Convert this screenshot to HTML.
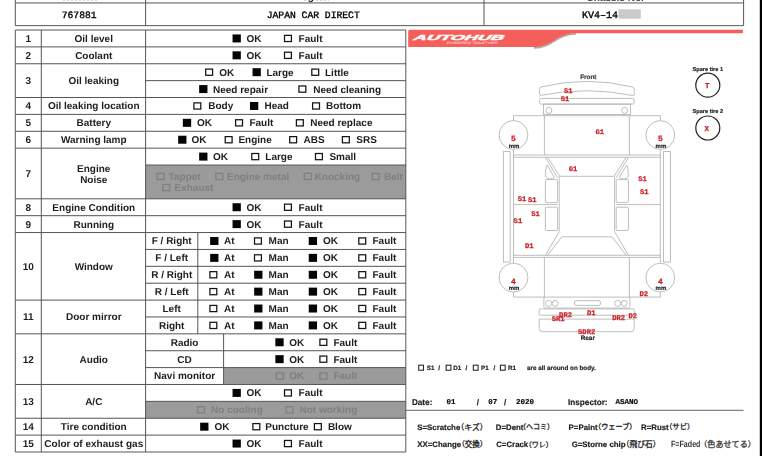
<!DOCTYPE html>
<html><head><meta charset="utf-8"><title>Inspection sheet</title>
<style>html,body{margin:0;padding:0;background:#fff}
body{width:762px;height:456px;position:relative;overflow:hidden;font-family:"Liberation Sans", sans-serif}
.t{position:absolute;white-space:nowrap;margin:0;padding:0;font-weight:bold;text-rendering:geometricPrecision}
.m{font-family:"Liberation Mono", monospace}
.n{font-weight:normal}
svg{position:absolute;left:0;top:0}
#txt{position:absolute;left:0;top:0;width:762px;height:456px;will-change:transform}</style></head>
<body>
<svg width="762" height="456" viewBox="0 0 762 456">
<rect x="145.60" y="165.04" width="260.20" height="33.76" fill="#9b9b9b" stroke="none" stroke-width="1" rx="0"/>
<rect x="223.60" y="367.60" width="182.20" height="16.88" fill="#9b9b9b" stroke="none" stroke-width="1" rx="0"/>
<rect x="145.60" y="401.36" width="260.20" height="16.88" fill="#9b9b9b" stroke="none" stroke-width="1" rx="0"/>
<line x1="15.30" y1="2.95" x2="743.60" y2="2.95" stroke="#555" stroke-width="1"/>
<line x1="15.30" y1="25.65" x2="743.60" y2="25.65" stroke="#555" stroke-width="1"/>
<line x1="15.30" y1="0.00" x2="15.30" y2="25.65" stroke="#555" stroke-width="1"/>
<line x1="145.60" y1="0.00" x2="145.60" y2="25.65" stroke="#555" stroke-width="1"/>
<line x1="484.00" y1="0.00" x2="484.00" y2="25.65" stroke="#555" stroke-width="1"/>
<line x1="743.60" y1="0.00" x2="743.60" y2="25.65" stroke="#555" stroke-width="1"/>
<line x1="15.30" y1="30.00" x2="405.80" y2="30.00" stroke="#555" stroke-width="1"/>
<line x1="15.30" y1="46.88" x2="405.80" y2="46.88" stroke="#555" stroke-width="1"/>
<line x1="15.30" y1="63.76" x2="405.80" y2="63.76" stroke="#555" stroke-width="1"/>
<line x1="15.30" y1="97.52" x2="405.80" y2="97.52" stroke="#555" stroke-width="1"/>
<line x1="15.30" y1="114.40" x2="405.80" y2="114.40" stroke="#555" stroke-width="1"/>
<line x1="15.30" y1="131.28" x2="405.80" y2="131.28" stroke="#555" stroke-width="1"/>
<line x1="15.30" y1="148.16" x2="405.80" y2="148.16" stroke="#555" stroke-width="1"/>
<line x1="15.30" y1="198.80" x2="405.80" y2="198.80" stroke="#555" stroke-width="1"/>
<line x1="15.30" y1="215.68" x2="405.80" y2="215.68" stroke="#555" stroke-width="1"/>
<line x1="15.30" y1="232.56" x2="405.80" y2="232.56" stroke="#555" stroke-width="1"/>
<line x1="15.30" y1="300.08" x2="405.80" y2="300.08" stroke="#555" stroke-width="1"/>
<line x1="15.30" y1="333.84" x2="405.80" y2="333.84" stroke="#555" stroke-width="1"/>
<line x1="15.30" y1="384.48" x2="405.80" y2="384.48" stroke="#555" stroke-width="1"/>
<line x1="15.30" y1="418.24" x2="405.80" y2="418.24" stroke="#555" stroke-width="1"/>
<line x1="15.30" y1="435.12" x2="405.80" y2="435.12" stroke="#555" stroke-width="1"/>
<line x1="15.30" y1="452.00" x2="405.80" y2="452.00" stroke="#555" stroke-width="1"/>
<line x1="145.60" y1="80.64" x2="405.80" y2="80.64" stroke="#555" stroke-width="1"/>
<line x1="145.60" y1="165.04" x2="405.80" y2="165.04" stroke="#555" stroke-width="1"/>
<line x1="145.60" y1="249.44" x2="405.80" y2="249.44" stroke="#555" stroke-width="1"/>
<line x1="145.60" y1="266.32" x2="405.80" y2="266.32" stroke="#555" stroke-width="1"/>
<line x1="145.60" y1="283.20" x2="405.80" y2="283.20" stroke="#555" stroke-width="1"/>
<line x1="145.60" y1="316.96" x2="405.80" y2="316.96" stroke="#555" stroke-width="1"/>
<line x1="145.60" y1="350.72" x2="405.80" y2="350.72" stroke="#555" stroke-width="1"/>
<line x1="145.60" y1="367.60" x2="405.80" y2="367.60" stroke="#555" stroke-width="1"/>
<line x1="145.60" y1="401.36" x2="405.80" y2="401.36" stroke="#555" stroke-width="1"/>
<line x1="15.30" y1="30.00" x2="15.30" y2="452.00" stroke="#555" stroke-width="1"/>
<line x1="41.30" y1="30.00" x2="41.30" y2="452.00" stroke="#555" stroke-width="1"/>
<line x1="145.60" y1="30.00" x2="145.60" y2="452.00" stroke="#555" stroke-width="1"/>
<line x1="405.80" y1="30.00" x2="405.80" y2="452.00" stroke="#555" stroke-width="1"/>
<line x1="197.80" y1="232.56" x2="197.80" y2="333.84" stroke="#555" stroke-width="1"/>
<line x1="223.60" y1="333.84" x2="223.60" y2="384.48" stroke="#555" stroke-width="1"/>
<rect x="232.55" y="34.44" width="8.30" height="8.00" fill="#050505" stroke="none" stroke-width="1" rx="0"/>
<rect x="284.50" y="35.34" width="6.90" height="6.20" fill="none" stroke="#141414" stroke-width="1.25" rx="0"/>
<rect x="232.55" y="51.32" width="8.30" height="8.00" fill="#050505" stroke="none" stroke-width="1" rx="0"/>
<rect x="284.50" y="52.22" width="6.90" height="6.20" fill="none" stroke="#141414" stroke-width="1.25" rx="0"/>
<rect x="232.55" y="203.24" width="8.30" height="8.00" fill="#050505" stroke="none" stroke-width="1" rx="0"/>
<rect x="284.50" y="204.14" width="6.90" height="6.20" fill="none" stroke="#141414" stroke-width="1.25" rx="0"/>
<rect x="232.55" y="220.12" width="8.30" height="8.00" fill="#050505" stroke="none" stroke-width="1" rx="0"/>
<rect x="284.50" y="221.02" width="6.90" height="6.20" fill="none" stroke="#141414" stroke-width="1.25" rx="0"/>
<rect x="232.55" y="388.92" width="8.30" height="8.00" fill="#050505" stroke="none" stroke-width="1" rx="0"/>
<rect x="284.50" y="389.82" width="6.90" height="6.20" fill="none" stroke="#141414" stroke-width="1.25" rx="0"/>
<rect x="232.55" y="439.56" width="8.30" height="8.00" fill="#050505" stroke="none" stroke-width="1" rx="0"/>
<rect x="284.50" y="440.46" width="6.90" height="6.20" fill="none" stroke="#141414" stroke-width="1.25" rx="0"/>
<rect x="205.70" y="69.10" width="6.90" height="6.20" fill="none" stroke="#141414" stroke-width="1.25" rx="0"/>
<rect x="252.55" y="68.20" width="8.30" height="8.00" fill="#050505" stroke="none" stroke-width="1" rx="0"/>
<rect x="311.80" y="69.10" width="6.90" height="6.20" fill="none" stroke="#141414" stroke-width="1.25" rx="0"/>
<rect x="199.15" y="85.08" width="8.30" height="8.00" fill="#050505" stroke="none" stroke-width="1" rx="0"/>
<rect x="298.90" y="85.98" width="6.90" height="6.20" fill="none" stroke="#141414" stroke-width="1.25" rx="0"/>
<rect x="193.90" y="102.86" width="6.90" height="6.20" fill="none" stroke="#141414" stroke-width="1.25" rx="0"/>
<rect x="249.95" y="101.96" width="8.30" height="8.00" fill="#050505" stroke="none" stroke-width="1" rx="0"/>
<rect x="312.60" y="102.86" width="6.90" height="6.20" fill="none" stroke="#141414" stroke-width="1.25" rx="0"/>
<rect x="182.85" y="118.84" width="8.30" height="8.00" fill="#050505" stroke="none" stroke-width="1" rx="0"/>
<rect x="235.60" y="119.74" width="6.90" height="6.20" fill="none" stroke="#141414" stroke-width="1.25" rx="0"/>
<rect x="296.40" y="119.74" width="6.90" height="6.20" fill="none" stroke="#141414" stroke-width="1.25" rx="0"/>
<rect x="178.15" y="135.72" width="8.30" height="8.00" fill="#050505" stroke="none" stroke-width="1" rx="0"/>
<rect x="225.20" y="136.62" width="6.90" height="6.20" fill="none" stroke="#141414" stroke-width="1.25" rx="0"/>
<rect x="289.70" y="136.62" width="6.90" height="6.20" fill="none" stroke="#141414" stroke-width="1.25" rx="0"/>
<rect x="342.40" y="136.62" width="6.90" height="6.20" fill="none" stroke="#141414" stroke-width="1.25" rx="0"/>
<rect x="199.15" y="152.60" width="8.30" height="8.00" fill="#050505" stroke="none" stroke-width="1" rx="0"/>
<rect x="251.80" y="153.50" width="6.90" height="6.20" fill="none" stroke="#141414" stroke-width="1.25" rx="0"/>
<rect x="315.50" y="153.50" width="6.90" height="6.20" fill="none" stroke="#141414" stroke-width="1.25" rx="0"/>
<rect x="157.10" y="173.30" width="6.90" height="6.20" fill="none" stroke="#7f7f7f" stroke-width="1.25" rx="0"/>
<rect x="215.80" y="173.30" width="6.90" height="6.20" fill="none" stroke="#7f7f7f" stroke-width="1.25" rx="0"/>
<rect x="304.30" y="173.30" width="6.90" height="6.20" fill="none" stroke="#7f7f7f" stroke-width="1.25" rx="0"/>
<rect x="372.30" y="173.30" width="6.90" height="6.20" fill="none" stroke="#7f7f7f" stroke-width="1.25" rx="0"/>
<rect x="162.80" y="184.50" width="6.90" height="6.20" fill="none" stroke="#7f7f7f" stroke-width="1.25" rx="0"/>
<rect x="210.15" y="237.00" width="8.30" height="8.00" fill="#050505" stroke="none" stroke-width="1" rx="0"/>
<rect x="254.50" y="237.90" width="6.90" height="6.20" fill="none" stroke="#141414" stroke-width="1.25" rx="0"/>
<rect x="308.75" y="237.00" width="8.30" height="8.00" fill="#050505" stroke="none" stroke-width="1" rx="0"/>
<rect x="358.80" y="237.90" width="6.90" height="6.20" fill="none" stroke="#141414" stroke-width="1.25" rx="0"/>
<rect x="210.15" y="253.88" width="8.30" height="8.00" fill="#050505" stroke="none" stroke-width="1" rx="0"/>
<rect x="254.50" y="254.78" width="6.90" height="6.20" fill="none" stroke="#141414" stroke-width="1.25" rx="0"/>
<rect x="308.75" y="253.88" width="8.30" height="8.00" fill="#050505" stroke="none" stroke-width="1" rx="0"/>
<rect x="358.80" y="254.78" width="6.90" height="6.20" fill="none" stroke="#141414" stroke-width="1.25" rx="0"/>
<rect x="209.90" y="271.66" width="6.90" height="6.20" fill="none" stroke="#141414" stroke-width="1.25" rx="0"/>
<rect x="254.15" y="270.76" width="8.30" height="8.00" fill="#050505" stroke="none" stroke-width="1" rx="0"/>
<rect x="308.75" y="270.76" width="8.30" height="8.00" fill="#050505" stroke="none" stroke-width="1" rx="0"/>
<rect x="358.80" y="271.66" width="6.90" height="6.20" fill="none" stroke="#141414" stroke-width="1.25" rx="0"/>
<rect x="209.90" y="288.54" width="6.90" height="6.20" fill="none" stroke="#141414" stroke-width="1.25" rx="0"/>
<rect x="254.15" y="287.64" width="8.30" height="8.00" fill="#050505" stroke="none" stroke-width="1" rx="0"/>
<rect x="308.75" y="287.64" width="8.30" height="8.00" fill="#050505" stroke="none" stroke-width="1" rx="0"/>
<rect x="358.80" y="288.54" width="6.90" height="6.20" fill="none" stroke="#141414" stroke-width="1.25" rx="0"/>
<rect x="209.90" y="305.42" width="6.90" height="6.20" fill="none" stroke="#141414" stroke-width="1.25" rx="0"/>
<rect x="254.15" y="304.52" width="8.30" height="8.00" fill="#050505" stroke="none" stroke-width="1" rx="0"/>
<rect x="308.75" y="304.52" width="8.30" height="8.00" fill="#050505" stroke="none" stroke-width="1" rx="0"/>
<rect x="358.80" y="305.42" width="6.90" height="6.20" fill="none" stroke="#141414" stroke-width="1.25" rx="0"/>
<rect x="209.90" y="322.30" width="6.90" height="6.20" fill="none" stroke="#141414" stroke-width="1.25" rx="0"/>
<rect x="254.15" y="321.40" width="8.30" height="8.00" fill="#050505" stroke="none" stroke-width="1" rx="0"/>
<rect x="308.75" y="321.40" width="8.30" height="8.00" fill="#050505" stroke="none" stroke-width="1" rx="0"/>
<rect x="358.80" y="322.30" width="6.90" height="6.20" fill="none" stroke="#141414" stroke-width="1.25" rx="0"/>
<rect x="275.35" y="338.28" width="8.30" height="8.00" fill="#050505" stroke="none" stroke-width="1" rx="0"/>
<rect x="319.90" y="339.18" width="6.90" height="6.20" fill="none" stroke="#141414" stroke-width="1.25" rx="0"/>
<rect x="275.35" y="355.16" width="8.30" height="8.00" fill="#050505" stroke="none" stroke-width="1" rx="0"/>
<rect x="319.90" y="356.06" width="6.90" height="6.20" fill="none" stroke="#141414" stroke-width="1.25" rx="0"/>
<rect x="276.50" y="372.94" width="6.90" height="6.20" fill="none" stroke="#7f7f7f" stroke-width="1.25" rx="0"/>
<rect x="319.90" y="372.94" width="6.90" height="6.20" fill="none" stroke="#7f7f7f" stroke-width="1.25" rx="0"/>
<rect x="197.60" y="406.70" width="6.90" height="6.20" fill="none" stroke="#7f7f7f" stroke-width="1.25" rx="0"/>
<rect x="286.00" y="406.70" width="6.90" height="6.20" fill="none" stroke="#7f7f7f" stroke-width="1.25" rx="0"/>
<rect x="200.15" y="422.68" width="8.30" height="8.00" fill="#050505" stroke="none" stroke-width="1" rx="0"/>
<rect x="252.90" y="423.58" width="6.90" height="6.20" fill="none" stroke="#141414" stroke-width="1.25" rx="0"/>
<rect x="314.40" y="423.58" width="6.90" height="6.20" fill="none" stroke="#141414" stroke-width="1.25" rx="0"/>
<rect x="618.40" y="9.20" width="22.40" height="9.60" fill="#cacaca" stroke="none" stroke-width="1" rx="0.8"/>
<line x1="63" y1="0.2" x2="97" y2="0.2" stroke="#c2c2c2" stroke-width="1" stroke-dasharray="2.2 1.8"/>
<line x1="304" y1="0.2" x2="329" y2="0.2" stroke="#c2c2c2" stroke-width="1" stroke-dasharray="2.2 1.8"/>
<rect x="759.80" y="0.00" width="2.20" height="456.00" fill="#000" stroke="none" stroke-width="1" rx="0"/>
<path d="M534 47.9 C553 47.9 556 34.0 576 34.0" fill="none" stroke="#8f8f8f" stroke-width="1.7" opacity="0.75"/>
<path d="M408.2 47.1 L408.2 31.4 Q408.2 29.8 409.8 29.8 L742.9 29.8 L742.9 33.3 L577 33.3 C556 33.3 553 47.1 534 47.1 Z" fill="#f45f59"/>
<text transform="translate(412.3 40.3) scale(2.52 1) skewX(-18)" font-family="Liberation Sans, sans-serif" font-weight="bold" font-size="7.2" fill="#fff" stroke="#fff" stroke-width="0.42">AUTOHUB</text>
<text transform="translate(446.6 44.3) scale(1.45 1) skewX(-15)" font-family="Liberation Sans, sans-serif" font-size="3.2" fill="#fff" opacity="0.9">POWERED TOGETHER</text>
<path d="M539.6 94.0 L539.6 88.8 Q539.6 87.3 541.1 87.0 A191.7 191.7 0 0 1 632.6999999999999 87.0 Q634.1999999999999 87.3 634.1999999999999 88.8 L634.1999999999999 94.2 Q634.1999999999999 95.9 632.6999999999999 95.5 A229.8 229.8 0 0 0 541.1 95.3 Q539.6 95.7 539.6 94.0 Z" fill="none" stroke="#adadad" stroke-width="0.8"/>
<rect x="539.6" y="98.4" width="94.6" height="5.7" rx="1.6" fill="none" stroke="#adadad" stroke-width="0.8"/>
<rect x="543.4" y="104.1" width="87.0" height="10.5" rx="0" fill="none" stroke="#adadad" stroke-width="0.8"/>
<circle cx="548.9" cy="110.4" r="3.0" fill="none" stroke="#adadad" stroke-width="0.8"/>
<circle cx="624.7" cy="110.4" r="3.0" fill="none" stroke="#adadad" stroke-width="0.8"/>
<path d="M513.5 121.0 L513.5 115.7 L660.3 115.7 L660.3 121.0" fill="none" stroke="#adadad" stroke-width="0.8"/>
<path d="M544.4 115.7 L544.4 155.0" fill="none" stroke="#adadad" stroke-width="0.8"/>
<path d="M629.4 115.7 L629.4 155.0" fill="none" stroke="#adadad" stroke-width="0.8"/>
<path d="M513.5 149.0 L513.5 263.5" fill="none" stroke="#adadad" stroke-width="0.8"/>
<path d="M660.3 149.0 L660.3 263.5" fill="none" stroke="#adadad" stroke-width="0.8"/>
<path d="M513.5 291.5 L513.5 297.1 L660.3 297.1 L660.3 291.5" fill="none" stroke="#adadad" stroke-width="0.8"/>
<circle cx="513.5" cy="135.0" r="14.4" fill="#fff" stroke="#adadad" stroke-width="0.8"/>
<circle cx="513.5" cy="277.6" r="14.4" fill="#fff" stroke="#adadad" stroke-width="0.8"/>
<circle cx="660.3" cy="135.0" r="14.4" fill="#fff" stroke="#adadad" stroke-width="0.8"/>
<circle cx="660.3" cy="277.6" r="14.4" fill="#fff" stroke="#adadad" stroke-width="0.8"/>
<path d="M513.5 155.0 L660.3 155.0" fill="none" stroke="#adadad" stroke-width="0.8"/>
<path d="M513.5 157.3 L660.3 157.3" fill="none" stroke="#adadad" stroke-width="0.8"/>
<path d="M513.5 255.3 L660.3 255.3" fill="none" stroke="#adadad" stroke-width="0.8"/>
<path d="M513.5 257.4 L660.3 257.4" fill="none" stroke="#adadad" stroke-width="0.8"/>
<rect x="503.3" y="151.6" width="6.9" height="110.4" rx="0" fill="none" stroke="#adadad" stroke-width="0.8"/>
<rect x="663.6" y="151.6" width="6.9" height="110.4" rx="0" fill="none" stroke="#adadad" stroke-width="0.8"/>
<path d="M545.4 157.3 L557.6 177.8" fill="none" stroke="#adadad" stroke-width="0.8"/>
<path d="M628.4 157.3 L616.2 177.8" fill="none" stroke="#adadad" stroke-width="0.8"/>
<path d="M547.6 157.3 L559.8 176.3 L614.0 176.3 L626.2 157.3" fill="none" stroke="#adadad" stroke-width="0.8"/>
<path d="M559.2 176.3 L559.2 231.6 L545.4 255.3" fill="none" stroke="#adadad" stroke-width="0.8"/>
<path d="M614.6 176.3 L614.6 231.6 L628.4 255.3" fill="none" stroke="#adadad" stroke-width="0.8"/>
<path d="M547.6 255.3 L561.8 236.8 L612.0 236.8 L626.2 255.3" fill="none" stroke="#adadad" stroke-width="0.8"/>
<path d="M513.5 204.6 L557.6 204.6" fill="none" stroke="#adadad" stroke-width="0.8"/>
<path d="M660.3 204.6 L616.2 204.6" fill="none" stroke="#adadad" stroke-width="0.8"/>
<rect x="545.4" y="179.6" width="12.2" height="23.0" rx="0.8" fill="none" stroke="#adadad" stroke-width="0.8"/>
<rect x="616.2" y="179.6" width="12.2" height="23.0" rx="0.8" fill="none" stroke="#adadad" stroke-width="0.8"/>
<rect x="545.4" y="207.2" width="12.2" height="23.3" rx="0.8" fill="none" stroke="#adadad" stroke-width="0.8"/>
<rect x="616.2" y="207.2" width="12.2" height="23.3" rx="0.8" fill="none" stroke="#adadad" stroke-width="0.8"/>
<path d="M546.6 165.2 Q545.2 171 545.6 176.2 Q546.4 179.2 550.0 179.0 Q553.6 178.8 554.4 177.4 L547.4 165.4 Z" fill="none" stroke="#adadad" stroke-width="0.8"/>
<path d="M627.2 165.2 Q628.6 171 628.2 176.2 Q627.4 179.2 623.8 179.0 Q620.2 178.8 619.4 177.4 L626.4 165.4 Z" fill="none" stroke="#adadad" stroke-width="0.8"/>
<path d="M544.4 257.4 L544.4 297.1" fill="none" stroke="#adadad" stroke-width="0.8"/>
<path d="M629.4 257.4 L629.4 297.1" fill="none" stroke="#adadad" stroke-width="0.8"/>
<path d="M543.9 297.1 L543.9 306.6 Q543.9 308.1 545.4 308.1 L628.4 308.1 Q629.9 308.1 629.9 306.6 L629.9 297.1" fill="none" stroke="#adadad" stroke-width="0.8"/>
<circle cx="548.6" cy="303.4" r="3.0" fill="none" stroke="#adadad" stroke-width="0.8"/>
<circle cx="555.2" cy="303.4" r="3.0" fill="none" stroke="#adadad" stroke-width="0.8"/>
<circle cx="617.7" cy="303.4" r="3.0" fill="none" stroke="#adadad" stroke-width="0.8"/>
<circle cx="624.2" cy="303.4" r="3.0" fill="none" stroke="#adadad" stroke-width="0.8"/>
<rect x="574.6" y="300.7" width="25.8" height="4.7" rx="1.3" fill="none" stroke="#adadad" stroke-width="0.8"/>
<rect x="539.2" y="308.9" width="95.0" height="6.3" rx="1.0" fill="none" stroke="#adadad" stroke-width="0.8"/>
<path d="M539.2 319.1 L634.1999999999999 319.1 L634.1999999999999 328.4 Q634.1999999999999 331.7 630.9 331.7 L542.5 331.7 Q539.2 331.7 539.2 328.4 Z" fill="none" stroke="#adadad" stroke-width="0.8"/>
<circle cx="707.8" cy="85.2" r="12" fill="none" stroke="#222" stroke-width="1.2"/>
<circle cx="707.8" cy="128.0" r="12" fill="none" stroke="#222" stroke-width="1.2"/>
<rect x="418.70" y="365.20" width="4.80" height="5.00" fill="none" stroke="#222" stroke-width="1.05" rx="0"/>
<rect x="446.10" y="365.20" width="4.80" height="5.00" fill="none" stroke="#222" stroke-width="1.05" rx="0"/>
<rect x="473.30" y="365.20" width="4.80" height="5.00" fill="none" stroke="#222" stroke-width="1.05" rx="0"/>
<rect x="500.40" y="365.20" width="4.80" height="5.00" fill="none" stroke="#222" stroke-width="1.05" rx="0"/>
<line x1="405.80" y1="410.30" x2="743.50" y2="410.30" stroke="#666" stroke-width="1"/>
<text x="456.38" y="429.59" font-family="'Liberation Sans', 'Noto Sans CJK JP', sans-serif" font-size="7.75" fill="#1e1e1e" stroke="#1e1e1e" stroke-width="0.3">（キズ）</text>
<text x="519.04" y="429.32" font-family="'Liberation Sans', 'Noto Sans CJK JP', sans-serif" font-size="7" fill="#1e1e1e" stroke="#1e1e1e" stroke-width="0.3">（ヘコミ）</text>
<text x="594.01" y="429.38" font-family="'Liberation Sans', 'Noto Sans CJK JP', sans-serif" font-size="7.16" fill="#1e1e1e" stroke="#1e1e1e" stroke-width="0.3">（ウェーブ）</text>
<text x="665.02" y="429.44" font-family="'Liberation Sans', 'Noto Sans CJK JP', sans-serif" font-size="7.34" fill="#1e1e1e" stroke="#1e1e1e" stroke-width="0.3">（サビ）</text>
<text x="457.38" y="446.69" font-family="'Liberation Sans', 'Noto Sans CJK JP', sans-serif" font-size="7.46" fill="#1e1e1e" stroke="#1e1e1e" stroke-width="0.3">（交換）</text>
<text x="524.73" y="446.54" font-family="'Liberation Sans', 'Noto Sans CJK JP', sans-serif" font-size="7.05" fill="#1e1e1e" stroke="#1e1e1e" stroke-width="0.3">（ワレ）</text>
<text x="621.64" y="446.79" font-family="'Liberation Sans', 'Noto Sans CJK JP', sans-serif" font-size="7.75" fill="#1e1e1e" stroke="#1e1e1e" stroke-width="0.3">（飛び石）</text>
<text x="699.28" y="446.81" font-family="'Liberation Sans', 'Noto Sans CJK JP', sans-serif" font-size="8.09" fill="#3a3a3a" stroke="#3a3a3a" stroke-width="0.3">（色あせてる）</text>
</svg>
<div id="txt">
<div class="t" style="left:-121.70px;width:300px;text-align:center;top:33px;font-size:10px;line-height:14px;color:#1e1e1e;">1</div>
<div class="t" style="left:-56.25px;width:300px;text-align:center;top:33px;font-size:10px;line-height:14px;color:#1e1e1e;">Oil level</div>
<div class="t" style="left:-121.70px;width:300px;text-align:center;top:50px;font-size:10px;line-height:14px;color:#1e1e1e;">2</div>
<div class="t" style="left:-56.25px;width:300px;text-align:center;top:50px;font-size:10px;line-height:14px;color:#1e1e1e;">Coolant</div>
<div class="t" style="left:-121.70px;width:300px;text-align:center;top:75px;font-size:10px;line-height:14px;color:#1e1e1e;">3</div>
<div class="t" style="left:-56.25px;width:300px;text-align:center;top:75px;font-size:10px;line-height:14px;color:#1e1e1e;">Oil leaking</div>
<div class="t" style="left:-121.70px;width:300px;text-align:center;top:100px;font-size:10px;line-height:14px;color:#1e1e1e;">4</div>
<div class="t" style="left:-56.25px;width:300px;text-align:center;top:100px;font-size:10px;line-height:14px;color:#1e1e1e;">Oil leaking location</div>
<div class="t" style="left:-121.70px;width:300px;text-align:center;top:117px;font-size:10px;line-height:14px;color:#1e1e1e;">5</div>
<div class="t" style="left:-56.25px;width:300px;text-align:center;top:117px;font-size:10px;line-height:14px;color:#1e1e1e;">Battery</div>
<div class="t" style="left:-121.70px;width:300px;text-align:center;top:134px;font-size:10px;line-height:14px;color:#1e1e1e;">6</div>
<div class="t" style="left:-56.25px;width:300px;text-align:center;top:134px;font-size:10px;line-height:14px;color:#1e1e1e;">Warning lamp</div>
<div class="t" style="left:-121.70px;width:300px;text-align:center;top:168px;font-size:10px;line-height:14px;color:#1e1e1e;">7</div>
<div class="t" style="left:-121.70px;width:300px;text-align:center;top:202px;font-size:10px;line-height:14px;color:#1e1e1e;">8</div>
<div class="t" style="left:-56.25px;width:300px;text-align:center;top:202px;font-size:10px;line-height:14px;color:#1e1e1e;">Engine Condition</div>
<div class="t" style="left:-121.70px;width:300px;text-align:center;top:219px;font-size:10px;line-height:14px;color:#1e1e1e;">9</div>
<div class="t" style="left:-56.25px;width:300px;text-align:center;top:219px;font-size:10px;line-height:14px;color:#1e1e1e;">Running</div>
<div class="t" style="left:-121.70px;width:300px;text-align:center;top:261px;font-size:10px;line-height:14px;color:#1e1e1e;">10</div>
<div class="t" style="left:-56.25px;width:300px;text-align:center;top:261px;font-size:10px;line-height:14px;color:#1e1e1e;">Window</div>
<div class="t" style="left:-121.70px;width:300px;text-align:center;top:311px;font-size:10px;line-height:14px;color:#1e1e1e;">11</div>
<div class="t" style="left:-56.25px;width:300px;text-align:center;top:311px;font-size:10px;line-height:14px;color:#1e1e1e;">Door mirror</div>
<div class="t" style="left:-121.70px;width:300px;text-align:center;top:354px;font-size:10px;line-height:14px;color:#1e1e1e;">12</div>
<div class="t" style="left:-56.25px;width:300px;text-align:center;top:354px;font-size:10px;line-height:14px;color:#1e1e1e;">Audio</div>
<div class="t" style="left:-121.70px;width:300px;text-align:center;top:396px;font-size:10px;line-height:14px;color:#1e1e1e;">13</div>
<div class="t" style="left:-56.25px;width:300px;text-align:center;top:396px;font-size:10px;line-height:14px;color:#1e1e1e;">A/C</div>
<div class="t" style="left:-121.70px;width:300px;text-align:center;top:421px;font-size:10px;line-height:14px;color:#1e1e1e;">14</div>
<div class="t" style="left:-56.25px;width:300px;text-align:center;top:421px;font-size:10px;line-height:14px;color:#1e1e1e;">Tire condition</div>
<div class="t" style="left:-121.70px;width:300px;text-align:center;top:438px;font-size:10px;line-height:14px;color:#1e1e1e;">15</div>
<div class="t" style="left:-56.25px;width:300px;text-align:center;top:438px;font-size:10px;line-height:14px;color:#1e1e1e;">Color of exhaust gas</div>
<div class="t" style="left:-56.25px;width:300px;text-align:center;top:163px;font-size:10px;line-height:14px;color:#1e1e1e;">Engine</div>
<div class="t" style="left:-56.25px;width:300px;text-align:center;top:174px;font-size:10px;line-height:14px;color:#1e1e1e;">Noise</div>
<div class="t" style="left:246.60px;top:33px;font-size:10px;line-height:14px;color:#1e1e1e;">OK</div>
<div class="t" style="left:298.60px;top:33px;font-size:10px;line-height:14px;color:#1e1e1e;">Fault</div>
<div class="t" style="left:246.60px;top:50px;font-size:10px;line-height:14px;color:#1e1e1e;">OK</div>
<div class="t" style="left:298.60px;top:50px;font-size:10px;line-height:14px;color:#1e1e1e;">Fault</div>
<div class="t" style="left:246.60px;top:202px;font-size:10px;line-height:14px;color:#1e1e1e;">OK</div>
<div class="t" style="left:298.60px;top:202px;font-size:10px;line-height:14px;color:#1e1e1e;">Fault</div>
<div class="t" style="left:246.60px;top:219px;font-size:10px;line-height:14px;color:#1e1e1e;">OK</div>
<div class="t" style="left:298.60px;top:219px;font-size:10px;line-height:14px;color:#1e1e1e;">Fault</div>
<div class="t" style="left:246.60px;top:387px;font-size:10px;line-height:14px;color:#1e1e1e;">OK</div>
<div class="t" style="left:298.60px;top:387px;font-size:10px;line-height:14px;color:#1e1e1e;">Fault</div>
<div class="t" style="left:246.60px;top:438px;font-size:10px;line-height:14px;color:#1e1e1e;">OK</div>
<div class="t" style="left:298.60px;top:438px;font-size:10px;line-height:14px;color:#1e1e1e;">Fault</div>
<div class="t" style="left:219.20px;top:67px;font-size:10px;line-height:14px;color:#1e1e1e;">OK</div>
<div class="t" style="left:266.40px;top:67px;font-size:10px;line-height:14px;color:#1e1e1e;">Large</div>
<div class="t" style="left:325.00px;top:67px;font-size:10px;line-height:14px;color:#1e1e1e;">Little</div>
<div class="t" style="left:213.00px;top:84px;font-size:10px;line-height:14px;color:#1e1e1e;">Need repair</div>
<div class="t" style="left:313.20px;top:84px;font-size:10px;line-height:14px;color:#1e1e1e;">Need cleaning</div>
<div class="t" style="left:208.20px;top:100px;font-size:10px;line-height:14px;color:#1e1e1e;">Body</div>
<div class="t" style="left:264.50px;top:100px;font-size:10px;line-height:14px;color:#1e1e1e;">Head</div>
<div class="t" style="left:326.10px;top:100px;font-size:10px;line-height:14px;color:#1e1e1e;">Bottom</div>
<div class="t" style="left:197.10px;top:117px;font-size:10px;line-height:14px;color:#1e1e1e;">OK</div>
<div class="t" style="left:249.40px;top:117px;font-size:10px;line-height:14px;color:#1e1e1e;">Fault</div>
<div class="t" style="left:310.20px;top:117px;font-size:10px;line-height:14px;color:#1e1e1e;">Need replace</div>
<div class="t" style="left:191.60px;top:134px;font-size:10px;line-height:14px;color:#1e1e1e;">OK</div>
<div class="t" style="left:238.40px;top:134px;font-size:10px;line-height:14px;color:#1e1e1e;">Engine</div>
<div class="t" style="left:303.60px;top:134px;font-size:10px;line-height:14px;color:#1e1e1e;">ABS</div>
<div class="t" style="left:356.30px;top:134px;font-size:10px;line-height:14px;color:#1e1e1e;">SRS</div>
<div class="t" style="left:213.00px;top:151px;font-size:10px;line-height:14px;color:#1e1e1e;">OK</div>
<div class="t" style="left:265.30px;top:151px;font-size:10px;line-height:14px;color:#1e1e1e;">Large</div>
<div class="t" style="left:329.40px;top:151px;font-size:10px;line-height:14px;color:#1e1e1e;">Small</div>
<div class="t" style="left:168.60px;top:171px;font-size:10px;line-height:14px;color:#7f7f7f;">Tappet</div>
<div class="t" style="left:227.00px;top:171px;font-size:10px;line-height:14px;color:#7f7f7f;">Engine metal</div>
<div class="t" style="left:314.60px;top:171px;font-size:10px;line-height:14px;color:#7f7f7f;">Knocking</div>
<div class="t" style="left:384.00px;top:171px;font-size:10px;line-height:14px;color:#7f7f7f;">Belt</div>
<div class="t" style="left:174.50px;top:182px;font-size:10px;line-height:14px;color:#7f7f7f;">Exhaust</div>
<div class="t" style="left:21.70px;width:300px;text-align:center;top:235px;font-size:10px;line-height:14px;color:#1e1e1e;">F / Right</div>
<div class="t" style="left:224.00px;top:235px;font-size:10px;line-height:14px;color:#1e1e1e;">At</div>
<div class="t" style="left:268.60px;top:235px;font-size:10px;line-height:14px;color:#1e1e1e;">Man</div>
<div class="t" style="left:323.10px;top:235px;font-size:10px;line-height:14px;color:#1e1e1e;">OK</div>
<div class="t" style="left:372.50px;top:235px;font-size:10px;line-height:14px;color:#1e1e1e;">Fault</div>
<div class="t" style="left:21.70px;width:300px;text-align:center;top:252px;font-size:10px;line-height:14px;color:#1e1e1e;">F / Left</div>
<div class="t" style="left:224.00px;top:252px;font-size:10px;line-height:14px;color:#1e1e1e;">At</div>
<div class="t" style="left:268.60px;top:252px;font-size:10px;line-height:14px;color:#1e1e1e;">Man</div>
<div class="t" style="left:323.10px;top:252px;font-size:10px;line-height:14px;color:#1e1e1e;">OK</div>
<div class="t" style="left:372.50px;top:252px;font-size:10px;line-height:14px;color:#1e1e1e;">Fault</div>
<div class="t" style="left:21.70px;width:300px;text-align:center;top:269px;font-size:10px;line-height:14px;color:#1e1e1e;">R / Right</div>
<div class="t" style="left:224.00px;top:269px;font-size:10px;line-height:14px;color:#1e1e1e;">At</div>
<div class="t" style="left:268.60px;top:269px;font-size:10px;line-height:14px;color:#1e1e1e;">Man</div>
<div class="t" style="left:323.10px;top:269px;font-size:10px;line-height:14px;color:#1e1e1e;">OK</div>
<div class="t" style="left:372.50px;top:269px;font-size:10px;line-height:14px;color:#1e1e1e;">Fault</div>
<div class="t" style="left:21.70px;width:300px;text-align:center;top:286px;font-size:10px;line-height:14px;color:#1e1e1e;">R / Left</div>
<div class="t" style="left:224.00px;top:286px;font-size:10px;line-height:14px;color:#1e1e1e;">At</div>
<div class="t" style="left:268.60px;top:286px;font-size:10px;line-height:14px;color:#1e1e1e;">Man</div>
<div class="t" style="left:323.10px;top:286px;font-size:10px;line-height:14px;color:#1e1e1e;">OK</div>
<div class="t" style="left:372.50px;top:286px;font-size:10px;line-height:14px;color:#1e1e1e;">Fault</div>
<div class="t" style="left:21.70px;width:300px;text-align:center;top:303px;font-size:10px;line-height:14px;color:#1e1e1e;">Left</div>
<div class="t" style="left:224.00px;top:303px;font-size:10px;line-height:14px;color:#1e1e1e;">At</div>
<div class="t" style="left:268.60px;top:303px;font-size:10px;line-height:14px;color:#1e1e1e;">Man</div>
<div class="t" style="left:323.10px;top:303px;font-size:10px;line-height:14px;color:#1e1e1e;">OK</div>
<div class="t" style="left:372.50px;top:303px;font-size:10px;line-height:14px;color:#1e1e1e;">Fault</div>
<div class="t" style="left:21.70px;width:300px;text-align:center;top:320px;font-size:10px;line-height:14px;color:#1e1e1e;">Right</div>
<div class="t" style="left:224.00px;top:320px;font-size:10px;line-height:14px;color:#1e1e1e;">At</div>
<div class="t" style="left:268.60px;top:320px;font-size:10px;line-height:14px;color:#1e1e1e;">Man</div>
<div class="t" style="left:323.10px;top:320px;font-size:10px;line-height:14px;color:#1e1e1e;">OK</div>
<div class="t" style="left:372.50px;top:320px;font-size:10px;line-height:14px;color:#1e1e1e;">Fault</div>
<div class="t" style="left:34.60px;width:300px;text-align:center;top:337px;font-size:10px;line-height:14px;color:#1e1e1e;">Radio</div>
<div class="t" style="left:289.20px;top:337px;font-size:10px;line-height:14px;color:#1e1e1e;">OK</div>
<div class="t" style="left:333.40px;top:337px;font-size:10px;line-height:14px;color:#1e1e1e;">Fault</div>
<div class="t" style="left:34.60px;width:300px;text-align:center;top:354px;font-size:10px;line-height:14px;color:#1e1e1e;">CD</div>
<div class="t" style="left:289.20px;top:354px;font-size:10px;line-height:14px;color:#1e1e1e;">OK</div>
<div class="t" style="left:333.40px;top:354px;font-size:10px;line-height:14px;color:#1e1e1e;">Fault</div>
<div class="t" style="left:34.60px;width:300px;text-align:center;top:370px;font-size:10px;line-height:14px;color:#1e1e1e;">Navi monitor</div>
<div class="t" style="left:289.20px;top:370px;font-size:10px;line-height:14px;color:#7f7f7f;">OK</div>
<div class="t" style="left:333.40px;top:370px;font-size:10px;line-height:14px;color:#7f7f7f;">Fault</div>
<div class="t" style="left:211.10px;top:404px;font-size:10px;line-height:14px;color:#7f7f7f;">No cooling</div>
<div class="t" style="left:299.50px;top:404px;font-size:10px;line-height:14px;color:#7f7f7f;">Not working</div>
<div class="t" style="left:214.40px;top:421px;font-size:10px;line-height:14px;color:#1e1e1e;">OK</div>
<div class="t" style="left:265.30px;top:421px;font-size:10px;line-height:14px;color:#1e1e1e;">Puncture</div>
<div class="t" style="left:327.90px;top:421px;font-size:10px;line-height:14px;color:#1e1e1e;">Blow</div>
<div class="t m n" style="left:61.70px;top:9px;font-size:9.7px;line-height:14px;color:#000;-webkit-text-stroke:0.35px #000;">767881</div>
<div class="t m n" style="left:266.70px;top:9px;font-size:9.7px;line-height:14px;color:#000;-webkit-text-stroke:0.35px #000;">JAPAN CAR DIRECT</div>
<div class="t m n" style="left:582.00px;top:10px;font-size:10px;line-height:14px;color:#000;-webkit-text-stroke:0.35px #000;">KV4–14</div>
<div class="t" style="left:-69.60px;width:300px;text-align:center;top:-9px;font-size:10px;line-height:14px;color:#1e1e1e;">Lot No.</div>
<div class="t" style="left:164.80px;width:300px;text-align:center;top:-9px;font-size:10px;line-height:14px;color:#1e1e1e;">Agent</div>
<div class="t" style="left:465.20px;width:300px;text-align:center;top:-8px;font-size:10px;line-height:14px;color:#444;">Chassis No.</div>
<div class="t" style="left:438.30px;width:300px;text-align:center;top:73px;font-size:6.4px;line-height:9px;color:#3a3a3a;-webkit-text-stroke:0.18px #3a3a3a;">Front</div>
<div class="t" style="left:437.80px;width:300px;text-align:center;top:334px;font-size:6.4px;line-height:9px;color:#222;-webkit-text-stroke:0.18px #222;">Rear</div>
<div class="t m" style="left:563.90px;top:87px;font-size:7.2px;line-height:11px;color:#cc1f27;-webkit-text-stroke:0.25px #cc1f27;">S1</div>
<div class="t m" style="left:560.70px;top:95px;font-size:7.2px;line-height:11px;color:#cc1f27;-webkit-text-stroke:0.25px #cc1f27;">S1</div>
<div class="t m" style="left:595.50px;top:128px;font-size:7.2px;line-height:11px;color:#cc1f27;-webkit-text-stroke:0.25px #cc1f27;">G1</div>
<div class="t m" style="left:568.70px;top:165px;font-size:7.2px;line-height:11px;color:#cc1f27;-webkit-text-stroke:0.25px #cc1f27;">G1</div>
<div class="t m" style="left:638.20px;top:175px;font-size:7.2px;line-height:11px;color:#cc1f27;-webkit-text-stroke:0.25px #cc1f27;">S1</div>
<div class="t m" style="left:640.00px;top:188px;font-size:7.2px;line-height:11px;color:#cc1f27;-webkit-text-stroke:0.25px #cc1f27;">S1</div>
<div class="t m" style="left:517.80px;top:195px;font-size:7.2px;line-height:11px;color:#cc1f27;-webkit-text-stroke:0.25px #cc1f27;">S1</div>
<div class="t m" style="left:527.90px;top:196px;font-size:7.2px;line-height:11px;color:#cc1f27;-webkit-text-stroke:0.25px #cc1f27;">S1</div>
<div class="t m" style="left:531.20px;top:210px;font-size:7.2px;line-height:11px;color:#cc1f27;-webkit-text-stroke:0.25px #cc1f27;">S1</div>
<div class="t m" style="left:513.60px;top:217px;font-size:7.2px;line-height:11px;color:#cc1f27;-webkit-text-stroke:0.25px #cc1f27;">S1</div>
<div class="t m" style="left:525.00px;top:242px;font-size:7.2px;line-height:11px;color:#cc1f27;-webkit-text-stroke:0.25px #cc1f27;">D1</div>
<div class="t m" style="left:639.40px;top:290px;font-size:7.2px;line-height:11px;color:#cc1f27;-webkit-text-stroke:0.25px #cc1f27;">D2</div>
<div class="t m" style="left:559.10px;top:311px;font-size:7.2px;line-height:11px;color:#cc1f27;-webkit-text-stroke:0.25px #cc1f27;">DR2</div>
<div class="t m" style="left:551.70px;top:315px;font-size:7.2px;line-height:11px;color:#cc1f27;-webkit-text-stroke:0.25px #cc1f27;">SR1</div>
<div class="t m" style="left:587.00px;top:309px;font-size:7.2px;line-height:11px;color:#cc1f27;-webkit-text-stroke:0.25px #cc1f27;">D1</div>
<div class="t m" style="left:612.20px;top:314px;font-size:7.2px;line-height:11px;color:#cc1f27;-webkit-text-stroke:0.25px #cc1f27;">DR2</div>
<div class="t m" style="left:628.40px;top:312px;font-size:7.2px;line-height:11px;color:#cc1f27;-webkit-text-stroke:0.25px #cc1f27;">D2</div>
<div class="t m" style="left:578.00px;top:328px;font-size:7.2px;line-height:11px;color:#cc1f27;-webkit-text-stroke:0.25px #cc1f27;">SDR2</div>
<div class="t m" style="left:363.50px;width:300px;text-align:center;top:134px;font-size:8px;line-height:12px;color:#cc1f27;-webkit-text-stroke:0.25px #cc1f27;">5</div>
<div class="t" style="left:364.10px;width:300px;text-align:center;top:143px;font-size:6px;line-height:9px;color:#222;-webkit-text-stroke:0.18px #222;">mm</div>
<div class="t m" style="left:363.50px;width:300px;text-align:center;top:277px;font-size:8px;line-height:12px;color:#cc1f27;-webkit-text-stroke:0.25px #cc1f27;">4</div>
<div class="t" style="left:364.10px;width:300px;text-align:center;top:285px;font-size:6px;line-height:9px;color:#222;-webkit-text-stroke:0.18px #222;">mm</div>
<div class="t m" style="left:510.30px;width:300px;text-align:center;top:134px;font-size:8px;line-height:12px;color:#cc1f27;-webkit-text-stroke:0.25px #cc1f27;">5</div>
<div class="t" style="left:510.90px;width:300px;text-align:center;top:143px;font-size:6px;line-height:9px;color:#222;-webkit-text-stroke:0.18px #222;">mm</div>
<div class="t m" style="left:510.30px;width:300px;text-align:center;top:277px;font-size:8px;line-height:12px;color:#cc1f27;-webkit-text-stroke:0.25px #cc1f27;">4</div>
<div class="t" style="left:510.90px;width:300px;text-align:center;top:285px;font-size:6px;line-height:9px;color:#222;-webkit-text-stroke:0.18px #222;">mm</div>
<div class="t" style="left:557.80px;width:300px;text-align:center;top:66px;font-size:5.6px;line-height:8px;color:#222;-webkit-text-stroke:0.18px #222;">Spare tire 1</div>
<div class="t" style="left:557.80px;width:300px;text-align:center;top:108px;font-size:5.6px;line-height:8px;color:#222;-webkit-text-stroke:0.18px #222;">Spare tire 2</div>
<div class="t m" style="left:557.20px;width:300px;text-align:center;top:82px;font-size:7.5px;line-height:11px;color:#cc1f27;-webkit-text-stroke:0.25px #cc1f27;">T</div>
<div class="t m" style="left:556.80px;width:300px;text-align:center;top:125px;font-size:7.5px;line-height:11px;color:#cc1f27;-webkit-text-stroke:0.25px #cc1f27;">X</div>
<div class="t" style="left:426.80px;top:364px;font-size:6.3px;line-height:9px;color:#1e1e1e;-webkit-text-stroke:0.18px #1e1e1e;">S1</div>
<div class="t" style="left:453.20px;top:364px;font-size:6.3px;line-height:9px;color:#1e1e1e;-webkit-text-stroke:0.18px #1e1e1e;">D1</div>
<div class="t" style="left:481.10px;top:364px;font-size:6.3px;line-height:9px;color:#1e1e1e;-webkit-text-stroke:0.18px #1e1e1e;">P1</div>
<div class="t" style="left:508.00px;top:364px;font-size:6.3px;line-height:9px;color:#1e1e1e;-webkit-text-stroke:0.18px #1e1e1e;">R1</div>
<div class="t" style="left:438.20px;top:364px;font-size:6.3px;line-height:9px;color:#1e1e1e;-webkit-text-stroke:0.18px #1e1e1e;">/</div>
<div class="t" style="left:465.40px;top:364px;font-size:6.3px;line-height:9px;color:#1e1e1e;-webkit-text-stroke:0.18px #1e1e1e;">/</div>
<div class="t" style="left:493.40px;top:364px;font-size:6.3px;line-height:9px;color:#1e1e1e;-webkit-text-stroke:0.18px #1e1e1e;">/</div>
<div class="t" style="left:527.00px;top:364px;font-size:6.3px;line-height:9px;color:#1e1e1e;-webkit-text-stroke:0.18px #1e1e1e;">are all around on body.</div>
<div class="t" style="left:411.90px;top:397px;font-size:8.2px;line-height:12px;color:#1e1e1e;-webkit-text-stroke:0.18px #1e1e1e;">Date:</div>
<div class="t m" style="left:446.60px;top:398px;font-size:7.5px;line-height:11px;color:#111;-webkit-text-stroke:0.2px #111;">01</div>
<div class="t" style="left:476.80px;top:397px;font-size:8.2px;line-height:12px;color:#1e1e1e;-webkit-text-stroke:0.18px #1e1e1e;">/</div>
<div class="t m" style="left:488.20px;top:398px;font-size:7.5px;line-height:11px;color:#111;-webkit-text-stroke:0.2px #111;">07</div>
<div class="t" style="left:504.00px;top:397px;font-size:8.2px;line-height:12px;color:#1e1e1e;-webkit-text-stroke:0.18px #1e1e1e;">/</div>
<div class="t m" style="left:515.90px;top:398px;font-size:7.5px;line-height:11px;color:#111;-webkit-text-stroke:0.2px #111;">2020</div>
<div class="t" style="left:568.00px;top:397px;font-size:8.2px;line-height:12px;color:#1e1e1e;-webkit-text-stroke:0.18px #1e1e1e;">Inspector:</div>
<div class="t m" style="left:615.60px;top:398px;font-size:7.5px;line-height:11px;color:#111;-webkit-text-stroke:0.2px #111;">ASANO</div>
<div class="t" style="left:417.30px;top:422px;font-size:7.85px;line-height:11px;color:#1e1e1e;-webkit-text-stroke:0.18px #1e1e1e;">S=Scratche</div>
<div class="t" style="left:495.80px;top:422px;font-size:7.85px;line-height:11px;color:#1e1e1e;-webkit-text-stroke:0.18px #1e1e1e;">D=Dent</div>
<div class="t" style="left:568.60px;top:422px;font-size:7.85px;line-height:11px;color:#1e1e1e;-webkit-text-stroke:0.18px #1e1e1e;">P=Paint</div>
<div class="t" style="left:641.00px;top:422px;font-size:7.85px;line-height:11px;color:#1e1e1e;-webkit-text-stroke:0.18px #1e1e1e;">R=Rust</div>
<div class="t" style="left:417.30px;top:439px;font-size:7.85px;line-height:11px;color:#1e1e1e;-webkit-text-stroke:0.18px #1e1e1e;">XX=Change</div>
<div class="t" style="left:496.20px;top:439px;font-size:7.85px;line-height:11px;color:#1e1e1e;-webkit-text-stroke:0.18px #1e1e1e;">C=Crack</div>
<div class="t" style="left:571.70px;top:439px;font-size:7.85px;line-height:11px;color:#1e1e1e;-webkit-text-stroke:0.18px #1e1e1e;">G=Storne chip</div>
<div class="t" style="left:671.40px;top:438px;font-size:9.0px;line-height:13px;color:#3a3a3a;transform:scaleX(0.79);transform-origin:0 50%;">F=Faded</div>
</div>
</body></html>
